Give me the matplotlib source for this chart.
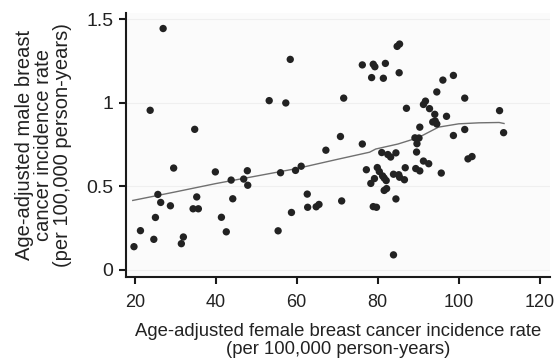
import matplotlib
matplotlib.use("Agg")
import matplotlib.pyplot as plt
from matplotlib.ticker import FuncFormatter

plt.rcParams['font.family'] = ['Liberation Sans', 'DejaVu Sans']

# female rate (x) / male rate (y)
female_rate = [
    19.8, 21.4, 23.8, 24.7, 25.1, 25.7, 26.4, 27.0, 28.8, 29.6,
    31.5, 32.0, 34.8, 34.4, 35.7, 35.3, 39.9, 41.4, 42.6, 43.8,
    44.2, 46.9, 47.8, 47.9, 53.2, 55.4, 56.0, 57.3, 58.4, 58.7,
    59.7, 61.1, 62.6, 62.7, 64.8, 65.5, 67.2, 70.8, 71.1, 71.6,
    76.2, 76.2, 77.2, 78.3, 78.5, 78.9, 79.3, 78.9, 79.7, 79.2,
    79.9, 80.4, 81.0, 81.2, 81.4, 81.6, 81.6, 82.2, 81.9, 82.1,
    82.5, 83.2, 83.9, 84.5, 84.5, 83.9, 84.8, 85.4, 85.3, 85.2,
    85.4, 86.6, 86.8, 87.1, 89.2, 90.2, 89.7, 89.6, 89.4, 90.4,
    90.4, 91.3, 92.6, 91.3, 91.8, 92.8, 94.1, 93.6, 94.2, 94.6,
    94.6, 95.7, 96.1, 97.0, 98.7, 98.7, 101.5, 101.5, 102.3, 103.3,
    110.1, 111.1,
]
male_rate = [
    0.137, 0.233, 0.954, 0.181, 0.312, 0.450, 0.402, 1.444, 0.382, 0.608,
    0.155, 0.195, 0.840, 0.364, 0.364, 0.435, 0.585, 0.313, 0.226, 0.536,
    0.424, 0.542, 0.592, 0.505, 1.012, 0.232, 0.580, 0.998, 1.259, 0.342,
    0.594, 0.619, 0.452, 0.373, 0.376, 0.390, 0.715, 0.797, 0.411, 1.027,
    0.752, 1.226, 0.598, 0.516, 1.150, 1.230, 1.215, 0.377, 0.373, 0.545,
    0.611, 0.587, 0.701, 0.561, 1.146, 0.548, 0.474, 0.485, 1.235, 0.533,
    0.689, 0.674, 0.571, 0.699, 0.423, 0.088, 1.337, 1.351, 1.179, 0.568,
    0.553, 0.538, 0.610, 0.966, 0.789, 0.788, 0.754, 0.704, 0.605, 0.591,
    0.853, 0.650, 0.634, 0.989, 1.009, 0.964, 0.930, 0.884, 0.890, 0.872,
    1.064, 0.578, 1.135, 0.918, 1.163, 0.803, 1.027, 0.839, 0.663, 0.677,
    0.952, 0.820,
]

# smoothed trend line as drawn in the figure
trend_x = [19.5, 30, 40, 50, 60, 70, 78, 79.5, 85, 90, 95, 100, 105, 110, 111.2]
trend_y = [0.414, 0.465, 0.515, 0.56, 0.605, 0.66, 0.703, 0.722, 0.752, 0.79,
           0.853, 0.873, 0.879, 0.881, 0.875]

x_ticks = [20, 40, 60, 80, 100, 120]
y_ticks = [0, 0.5, 1, 1.5]

fig = plt.figure(figsize=(5.57, 3.61), dpi=100)
ax = fig.add_axes([0.226, 0.233, 0.761, 0.731])
ax.set_facecolor('#fbfbfb')

for yt in y_ticks:
    ax.axhline(yt, color='#efefef', lw=0.8, zorder=0)

ax.plot(trend_x, trend_y, color='#707070', lw=1.0, zorder=2)
ax.scatter(female_rate, male_rate, s=28, color='#222222', edgecolors='none', zorder=3)

ax.set_xlim(17.8, 122.5)
ax.set_ylim(-0.044, 1.537)
ax.set_xticks(x_ticks)
ax.set_yticks(y_ticks)
ax.yaxis.set_major_formatter(FuncFormatter(lambda v, p: '{:g}'.format(v)))

for side in ['top', 'right']:
    ax.spines[side].set_visible(False)
for side in ['left', 'bottom']:
    ax.spines[side].set_linewidth(1.5)
    ax.spines[side].set_color('#1a1a1a')
ax.tick_params(axis='both', length=5, width=1.5, color='#1a1a1a',
               labelcolor='#222222')
ax.tick_params(axis='x', labelsize=13, pad=7)
ax.tick_params(axis='y', labelsize=14, pad=4)

ax.set_xlabel('Age-adjusted female breast cancer incidence rate\n(per 100,000 person-years)',
              fontsize=13.3, color='#222222', labelpad=9, linespacing=1.05)
ax.set_ylabel('Age-adjusted male breast\ncancer incidence rate\n(per 100,000 person-years)',
              fontsize=14.5, color='#222222', labelpad=10, linespacing=1.0)

fig.savefig('out.png', dpi=100)
